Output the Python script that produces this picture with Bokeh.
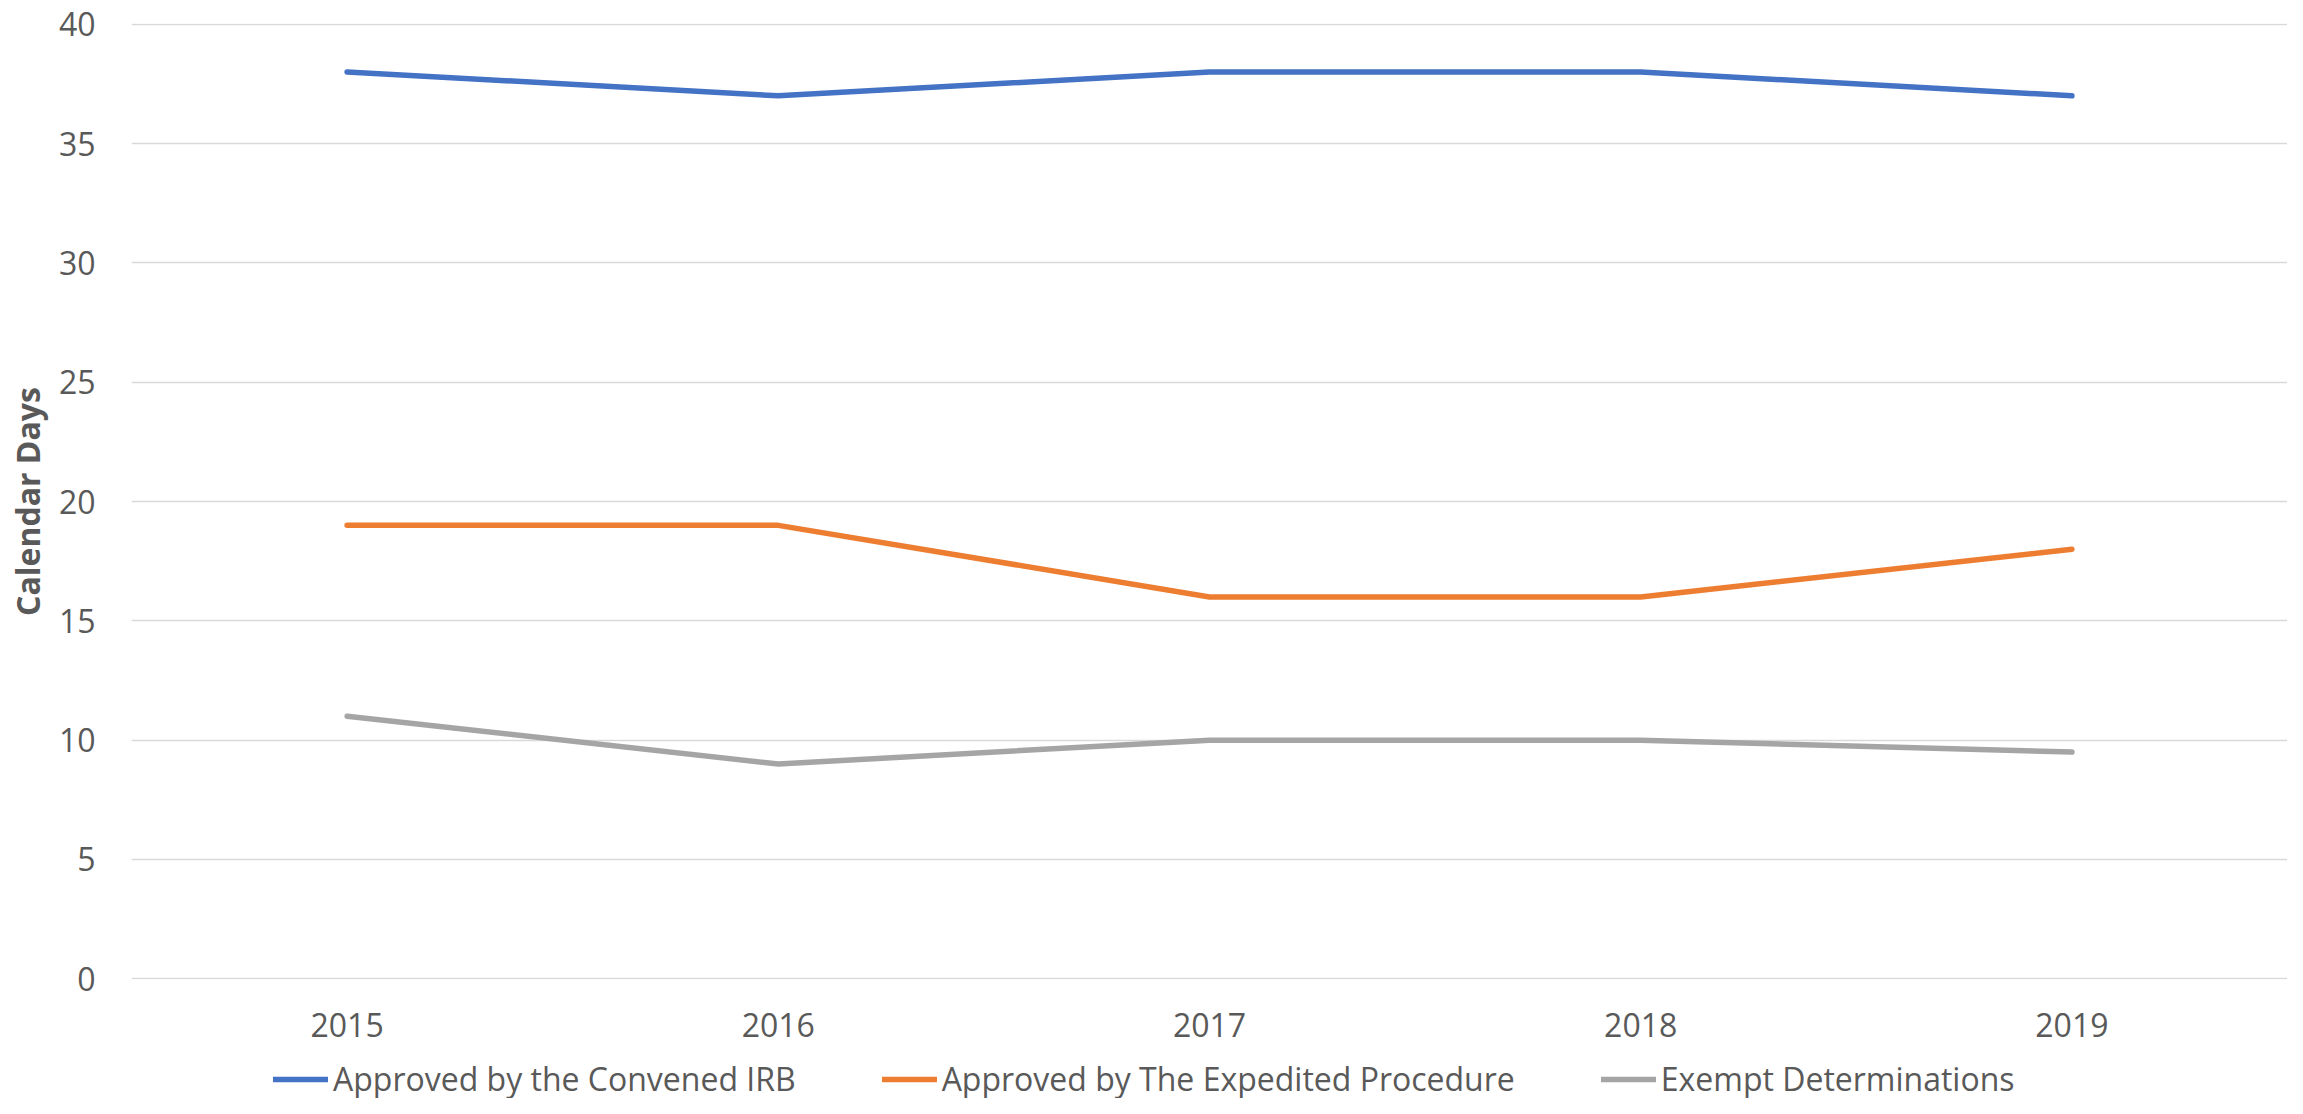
from bokeh.plotting import figure
from bokeh.layouts import column
from bokeh.models import Range1d, FactorRange, Legend, LegendItem, FixedTicker
from bokeh.embed import file_html
from bokeh.resources import INLINE

# ---- data ----
years = ["2015", "2016", "2017", "2018", "2019"]
convened_irb = [38, 37, 38, 38, 37]
expedited = [19, 19, 16, 16, 18]
exempt = [11, 9, 10, 10, 9.5]
series_labels = [
    "Approved by the Convened IRB",
    "Approved by The Expedited Procedure",
    "Exempt Determinations",
]
y_ticks = [0, 5, 10, 15, 20, 25, 30, 35, 40]
y_title = "Calendar Days"

colors = ["#4472C4", "#ED7D31", "#A5A5A5"]
FONT = "Open Sans"
TXT = "#595959"
W = 2287
series = [convened_irb, expedited, exempt]

# ---- main chart ----
p = figure(
    width=W, height=1057,
    x_range=FactorRange(*years, range_padding=0),
    y_range=Range1d(-0.03, 40.03),
    output_backend="svg", toolbar_location=None,
    min_border_left=131, min_border_right=0,
    min_border_top=23, min_border_bottom=78,
)
p.outline_line_color = None
p.background_fill_color = "white"
p.border_fill_color = "white"

for vals, c in zip(series, colors):
    p.line(years, vals, line_color=c, line_width=5.5,
           line_cap="round", line_join="round")

p.xgrid.grid_line_color = None
p.ygrid.grid_line_color = "#D9D9D9"
p.ygrid.grid_line_width = 1.5
p.yaxis.ticker = FixedTicker(ticks=y_ticks)

p.yaxis.axis_line_color = None
p.yaxis.major_tick_line_color = None
p.yaxis.minor_tick_line_color = None
p.yaxis.major_tick_out = 0
p.yaxis.major_tick_in = 0
p.yaxis.major_label_standoff = 36
p.yaxis.major_label_text_font = FONT
p.yaxis.major_label_text_font_size = "32px"
p.yaxis.major_label_text_color = TXT
p.yaxis.axis_label = y_title
p.yaxis.axis_label_text_font = FONT
p.yaxis.axis_label_text_font_size = "32px"
p.yaxis.axis_label_text_font_style = "bold"
p.yaxis.axis_label_text_color = TXT
p.yaxis.axis_label_standoff = 7

p.xaxis.axis_line_color = None
p.xaxis.major_tick_line_color = None
p.xaxis.minor_tick_line_color = None
p.xaxis.major_tick_out = 0
p.xaxis.major_tick_in = 0
p.xaxis.major_label_standoff = 33
p.xaxis.major_label_text_font = FONT
p.xaxis.major_label_text_font_size = "32px"
p.xaxis.major_label_text_color = TXT

# ---- legend strip (same series, drawn out of view so only the legend shows) ----
pl = figure(
    width=W, height=41,
    x_range=FactorRange(*years, range_padding=0), y_range=Range1d(100, 101),
    output_backend="svg", toolbar_location=None,
    min_border_left=0, min_border_right=0, min_border_top=0, min_border_bottom=0,
)
pl.axis.visible = False
pl.grid.visible = False
pl.outline_line_color = None
pl.background_fill_color = "white"
pl.border_fill_color = "white"

leg_renderers = []
for vals, c in zip(series, colors):
    r = pl.line(years, vals, line_color=c, line_width=5.5, line_cap="round")
    leg_renderers.append(r)

legend = Legend(
    items=[LegendItem(label=l, renderers=[r]) for l, r in zip(series_labels, leg_renderers)],
    orientation="horizontal",
    location=(142, -2),
    padding=0, margin=0,
    border_line_color=None, background_fill_alpha=0,
    glyph_width=55, glyph_height=20, label_standoff=5, spacing=86,
    label_text_font=FONT, label_text_font_size="32px", label_text_color=TXT,
)
pl.add_layout(legend, "center")

layout = column(p, pl, spacing=0)
open("out.html", "w").write(file_html(layout, INLINE))
